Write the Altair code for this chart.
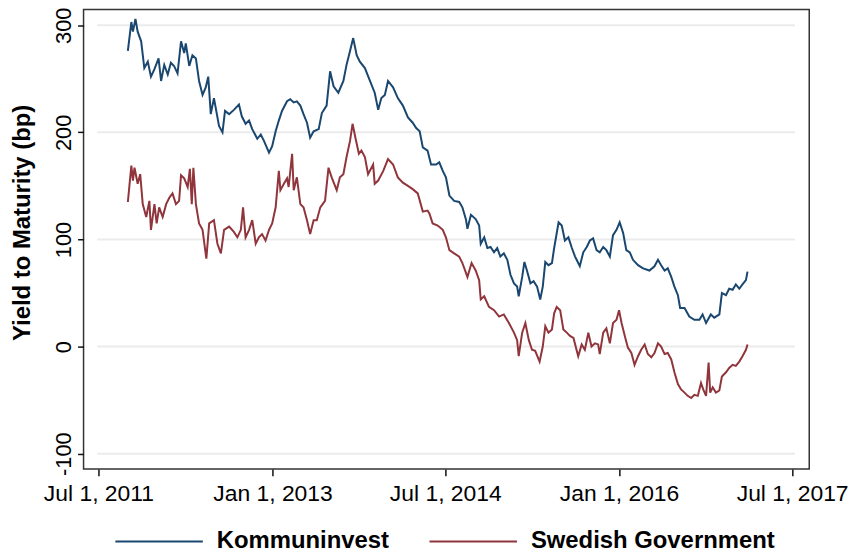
import altair as alt
import pandas as pd

# ---- data (decimal year, yield in bp) ----
KI_YEARS = [
    2011.752, 2011.781, 2011.795, 2011.818, 2011.838, 2011.867, 2011.895, 2011.924, 2011.953, 2011.981,
    2012.018, 2012.039, 2012.067, 2012.096, 2012.125, 2012.153, 2012.182, 2012.211, 2012.239, 2012.254,
    2012.282, 2012.311, 2012.340, 2012.368, 2012.397, 2012.426, 2012.448, 2012.469, 2012.497, 2012.540,
    2012.569, 2012.592, 2012.626, 2012.669, 2012.712, 2012.735, 2012.770, 2012.798, 2012.826, 2012.869,
    2012.899, 2012.927, 2012.970, 2012.998, 2013.028, 2013.056, 2013.084, 2013.127, 2013.156, 2013.185,
    2013.213, 2013.242, 2013.271, 2013.299, 2013.328, 2013.357, 2013.400, 2013.428, 2013.471, 2013.500,
    2013.529, 2013.572, 2013.615, 2013.643, 2013.672, 2013.701, 2013.729, 2013.758, 2013.801, 2013.844,
    2013.887, 2013.916, 2013.944, 2013.973, 2014.001, 2014.044, 2014.087, 2014.130, 2014.173, 2014.216,
    2014.245, 2014.274, 2014.302, 2014.345, 2014.374, 2014.417, 2014.446, 2014.474, 2014.503, 2014.532,
    2014.575, 2014.618, 2014.646, 2014.675, 2014.689, 2014.718, 2014.761, 2014.790, 2014.804, 2014.833,
    2014.861, 2014.889, 2014.919, 2014.947, 2014.975, 2015.005, 2015.033, 2015.061, 2015.091, 2015.119,
    2015.134, 2015.162, 2015.182, 2015.205, 2015.233, 2015.263, 2015.291, 2015.319, 2015.342, 2015.362,
    2015.391, 2015.420, 2015.440, 2015.477, 2015.506, 2015.534, 2015.563, 2015.592, 2015.620, 2015.635,
    2015.663, 2015.692, 2015.721, 2015.749, 2015.778, 2015.807, 2015.835, 2015.864, 2015.893, 2015.921,
    2015.950, 2015.979, 2016.007, 2016.036, 2016.065, 2016.093, 2016.122, 2016.165, 2016.208, 2016.265,
    2016.308, 2016.337, 2016.365, 2016.394, 2016.423, 2016.451, 2016.480, 2016.509, 2016.529, 2016.566,
    2016.609, 2016.652, 2016.695, 2016.724, 2016.752, 2016.795, 2016.824, 2016.867, 2016.890, 2016.924,
    2016.953, 2016.982, 2017.010, 2017.039, 2017.068, 2017.096, 2017.111,
]
KI_BP = [
    276, 303, 294, 306, 294, 285, 260, 266, 252, 259,
    269, 248, 263, 254, 265, 262, 255, 285, 274, 283,
    262, 272, 269, 248, 235, 242, 252, 217, 232, 206,
    200, 220, 217, 221, 226, 215, 208, 211, 203, 194,
    198, 192, 181, 187, 201, 211, 220, 229, 231, 228,
    229, 225, 217, 209, 195, 201, 203, 218, 225, 257,
    243, 237, 248, 263, 276, 288, 272, 266, 260, 248,
    237, 221, 232, 235, 248, 242, 232, 225, 214, 209,
    204, 201, 186, 183, 170, 170, 172, 164, 158, 141,
    136, 135, 130, 119, 110, 123, 119, 113, 96, 102,
    92, 93, 88, 92, 84, 87, 81, 67, 59, 56,
    47, 65, 79, 71, 59, 61, 56, 44, 56, 79,
    76, 78, 92, 116, 113, 99, 102, 92, 84, 81,
    75, 88, 93, 99, 101, 90, 88, 93, 90, 84,
    104, 109, 116, 106, 90, 88, 81, 76, 73, 71,
    75, 81, 76, 71, 73, 65, 56, 48, 36, 36,
    28, 25, 25, 30, 22, 30, 27, 30, 50, 48,
    54, 53, 58, 54, 58, 62, 70,
]

SG_YEARS = [
    2011.752, 2011.781, 2011.795, 2011.809, 2011.838, 2011.858, 2011.881, 2011.910, 2011.938, 2011.953,
    2011.981, 2012.001, 2012.024, 2012.053, 2012.082, 2012.110, 2012.139, 2012.168, 2012.196, 2012.211,
    2012.239, 2012.268, 2012.288, 2012.305, 2012.317, 2012.340, 2012.368, 2012.397, 2012.431, 2012.454,
    2012.497, 2012.526, 2012.555, 2012.583, 2012.626, 2012.669, 2012.697, 2012.727, 2012.746, 2012.770,
    2012.798, 2012.826, 2012.856, 2012.884, 2012.912, 2012.942, 2012.970, 2012.998, 2013.028, 2013.056,
    2013.071, 2013.099, 2013.127, 2013.142, 2013.170, 2013.185, 2013.213, 2013.242, 2013.271, 2013.299,
    2013.328, 2013.357, 2013.385, 2013.414, 2013.457, 2013.486, 2013.514, 2013.557, 2013.586, 2013.615,
    2013.643, 2013.672, 2013.695, 2013.720, 2013.750, 2013.772, 2013.801, 2013.830, 2013.873, 2013.887,
    2013.916, 2013.959, 2014.001, 2014.044, 2014.087, 2014.130, 2014.173, 2014.216, 2014.259, 2014.302,
    2014.345, 2014.360, 2014.388, 2014.431, 2014.474, 2014.503, 2014.532, 2014.575, 2014.618, 2014.646,
    2014.689, 2014.724, 2014.761, 2014.790, 2014.804, 2014.833, 2014.876, 2014.919, 2014.962, 2015.005,
    2015.048, 2015.091, 2015.119, 2015.134, 2015.162, 2015.190, 2015.220, 2015.248, 2015.276, 2015.314,
    2015.342, 2015.362, 2015.391, 2015.420, 2015.440, 2015.463, 2015.491, 2015.520, 2015.549, 2015.577,
    2015.606, 2015.649, 2015.678, 2015.706, 2015.735, 2015.764, 2015.792, 2015.821, 2015.835, 2015.864,
    2015.893, 2015.921, 2015.950, 2015.979, 2016.002, 2016.022, 2016.050, 2016.079, 2016.107, 2016.136,
    2016.165, 2016.193, 2016.222, 2016.251, 2016.279, 2016.308, 2016.337, 2016.365, 2016.394, 2016.423,
    2016.451, 2016.480, 2016.509, 2016.537, 2016.566, 2016.595, 2016.623, 2016.652, 2016.681, 2016.709,
    2016.729, 2016.752, 2016.775, 2016.787, 2016.810, 2016.838, 2016.867, 2016.890, 2016.924, 2016.953,
    2016.982, 2017.010, 2017.039, 2017.068, 2017.096, 2017.111,
]
SG_BP = [
    135, 169, 155, 167, 152, 161, 133, 121, 136, 109,
    133, 115, 130, 121, 133, 139, 143, 133, 136, 160,
    157, 149, 166, 133, 167, 133, 115, 109, 82, 115,
    118, 96, 87, 109, 112, 107, 102, 109, 130, 102,
    109, 118, 96, 102, 105, 99, 109, 115, 130, 164,
    146, 152, 157, 149, 180, 146, 158, 133, 130, 118,
    105, 118, 118, 130, 136, 167, 158, 146, 158, 161,
    177, 192, 208, 195, 180, 183, 177, 161, 170, 152,
    155, 164, 175, 170, 158, 153, 150, 147, 143, 126,
    127, 124, 115, 113, 109, 102, 90, 87, 84, 78,
    65, 78, 71, 62, 44, 47, 37, 34, 28, 30,
    22, 13, 6, -9, 13, 22, 6, -3, -4, -14,
    0, 19, 13, 16, 31, 37, 34, 16, 13, 10,
    8, -9, 2, -3, 13, 0, 3, 2, -7, 13,
    17, 3, 22, 25, 34, 22, 10, -1, -6, -17,
    -9, -3, 2, -7, -10, -6, 3, 0, -7, -6,
    -12, -24, -35, -40, -43, -46, -48, -45, -46, -34,
    -40, -46, -15, -43, -38, -43, -41, -28, -24, -20,
    -17, -18, -14, -9, -3, 2,
]

SERIES = ["Kommuninvest", "Swedish Government"]
COLORS = ["#1a476f", "#90353b"]
Y_TICKS = [-100, 0, 100, 200, 300]

FONT = "Liberation Sans, Arial, Helvetica, sans-serif"


def to_date(t):
    y = int(t)
    start = pd.Timestamp(year=y, month=1, day=1)
    ndays = (pd.Timestamp(year=y + 1, month=1, day=1) - start).days
    return (start + pd.Timedelta(days=(t - y) * ndays)).strftime("%Y-%m-%d")


df = pd.concat([
    pd.DataFrame({"date": [to_date(t) for t in KI_YEARS], "bp": KI_BP, "series": SERIES[0]}),
    pd.DataFrame({"date": [to_date(t) for t in SG_YEARS], "bp": SG_BP, "series": SERIES[1]}),
], ignore_index=True)

grid_df = pd.DataFrame({"date": "2011-06-27", "date_end": "2017-07-10", "bp": Y_TICKS})

x_scale = alt.Scale(
    type="utc",
    domain=[alt.DateTime(year=2011, month=5, date=15, utc=True),
            alt.DateTime(year=2017, month=8, date=24, utc=True)],
)
y_scale = alt.Scale(domain=[-114.2, 314.6], nice=False, zero=False)

x_ticks = [
    alt.DateTime(year=2011, month=7, date=1, utc=True),
    alt.DateTime(year=2013, month=1, date=1, utc=True),
    alt.DateTime(year=2014, month=7, date=1, utc=True),
    alt.DateTime(year=2016, month=1, date=1, utc=True),
    alt.DateTime(year=2017, month=7, date=1, utc=True),
]

x_axis = alt.Axis(
    title=None, values=x_ticks, format="%b %-d, %Y", grid=False,
    tickSize=7, labelPadding=7, labelFontSize=23, labelAngle=0,
    labelAlign="center", labelBaseline="top",
)
y_axis = alt.Axis(
    title="Yield to Maturity (bp)", values=Y_TICKS, grid=False,
    tickSize=6, labelAngle=270, labelAlign="center", labelBaseline="bottom",
    labelPadding=2, labelFontSize=22, labelExpr="'' + datum.value",
    titleAngle=270, titleAlign="center", titleBaseline="middle",
    titleX=-61, titleY=214, titleFontSize=24, titleFontWeight="bold",
)

grid = alt.Chart(grid_df).mark_rule(color="#ebebeb", strokeWidth=2).encode(
    x=alt.X("date:T", scale=x_scale, axis=x_axis),
    x2="date_end:T",
    y=alt.Y("bp:Q", scale=y_scale, axis=y_axis),
)

lines = alt.Chart(df).mark_line(strokeWidth=2).encode(
    x=alt.X("date:T", scale=x_scale, axis=x_axis),
    y=alt.Y("bp:Q", scale=y_scale, axis=y_axis),
    color=alt.Color(
        "series:N",
        scale=alt.Scale(domain=SERIES, range=COLORS),
        legend=alt.Legend(
            title=None, orient="none", legendX=31, legendY=490, direction="horizontal",
            symbolType="stroke", symbolSize=7744, symbolStrokeWidth=2,
            labelFont=FONT, labelFontSize=24, labelFontWeight="bold", labelColor="#000",
            labelOffset=13, columnPadding=36, labelLimit=400,
        ),
    ),
    order="date:T",
)

chart = alt.layer(grid, lines).properties(
    width=730,
    height=462,
    autosize=alt.AutoSizeParams(type="none"),
    padding={"left": 76, "top": 0, "right": 41, "bottom": 84},
).configure_view(
    stroke="#333333", strokeWidth=1.5
).configure_axis(
    domain=False, tickColor="#111111", tickWidth=1.5,
    labelFont=FONT, titleFont=FONT, labelColor="#000000", titleColor="#000000",
)

chart.save("out.html", embed_options={"renderer": "svg", "actions": False})
